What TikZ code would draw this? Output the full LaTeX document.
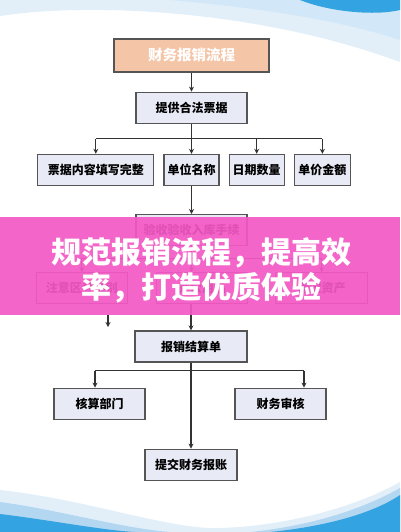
\documentclass[tikz,border=0pt]{standalone}
\usepackage{fontspec}
\newfontfamily\cjk{Noto Sans CJK SC}
\usetikzlibrary{arrows.meta,positioning,calc}
\definecolor{boxfill}{RGB}{232,234,246}
\definecolor{boxline}{RGB}{85,85,85}
\definecolor{peach}{RGB}{244,197,167}
\definecolor{wire}{RGB}{51,51,51}
\definecolor{bandpink}{RGB}{244,88,197}
\definecolor{skyA}{RGB}{226,239,249}
\definecolor{skyB}{RGB}{180,215,241}
\definecolor{skyC}{RGB}{52,163,225}

\begin{document}
\begin{tikzpicture}[x=1pt, y=-1pt,
box/.style={draw=boxline, line width=1.2pt, fill=boxfill, align=center, minimum height=31pt, inner sep=2pt, font=\cjk\bfseries\fontsize{12}{14}\selectfont},
head/.style={box, fill=peach, text=white, minimum width=155pt, minimum height=33pt, font=\cjk\bfseries\fontsize{14.5}{16}\selectfont},
arrow/.style={-{Stealth[length=5pt,width=5pt]}, wire, line width=1.2pt},
wireline/.style={wire, line width=1.2pt},
banner/.style={text=white, align=center, font=\cjk\bfseries\fontsize{30}{35}\selectfont}
]
\useasboundingbox (0,0) rectangle (400,532);
\fill[white] (0,0) rectangle (400,532);

% top swoosh
\fill[skyA] (0,0) -- (0,16) .. controls (90,2) and (260,10) .. (400,62) -- (400,0) -- cycle;
\fill[skyB!60] (170,0) .. controls (260,8) and (340,20) .. (400,40) -- (400,0) -- cycle;
\fill[skyC] (300,0) .. controls (330,12) and (375,16) .. (400,10) -- (400,0) -- cycle;

% bottom swoosh
\fill[skyA] (0,490) .. controls (90,500) and (170,530) .. (220,528) .. controls (290,526) and (360,505) .. (400,482) -- (400,532) -- (0,532) -- cycle;
\fill[skyB] (0,502) .. controls (60,510) and (120,528) .. (170,532) -- (0,532) -- cycle;
\fill[skyB] (250,532) .. controls (320,525) and (370,505) .. (400,488) -- (400,532) -- cycle;
\fill[skyC] (0,514) .. controls (50,520) and (100,530) .. (135,532) -- (0,532) -- cycle;
\fill[skyC] (270,532) .. controls (330,526) and (375,512) .. (400,495) -- (400,532) -- cycle;

% flow chart
\node[head] (title) at (191.5,55.5) {财务报销流程};
\node[box, minimum width=111pt, below=19pt of title] (legal) {提供合法票据};
\node[box, minimum width=55pt, below=30pt of legal] (unit) {单位名称};
\node[box, minimum width=116pt, left=9pt of unit] (fill) {票据内容填写完整};
\node[box, minimum width=55pt, right=9pt of unit] (date) {日期数量};
\node[box, minimum width=56pt, right=9pt of date] (price) {单价金额};
\node[box, minimum width=111pt, below=28pt of unit] (accept) {验收验收入库手续};
\node[box, minimum width=91pt, below=26pt of accept, xshift=10.5pt] (office) {办公用品};
\node[box, minimum width=91pt, left=28pt of office] (sort) {注意区分类别};
\node[box, minimum width=92pt, right=27pt of office] (asset) {固定资产};
\node[box, minimum width=112pt, below=26pt of office, xshift=-11pt] (settle) {报销结算单};
\node[box, minimum width=91pt, below=25pt of settle, xshift=-91.5pt] (dept) {核算部门};
\node[box, minimum width=91pt, below=25pt of settle, xshift=89.5pt] (review) {财务审核};
\node[box, minimum width=92pt, below=86pt of settle] (submit) {提交财务报账};

\draw[arrow] (title) -- (legal);
\coordinate[below=15pt of legal] (fork1);
\draw[wireline] (legal) -- (fork1);
\draw[wireline] (fork1 -| fill) -- (fork1 -| price);
\foreach \n in {fill,unit,date,price}
  \draw[arrow] (fork1 -| \n) -- (\n.north);

\draw[arrow] (unit) -- (accept);
\coordinate[below=12pt of accept] (fork2);
\draw[wireline] (accept) -- (fork2);
\draw[wireline] (fork2 -| sort) -- (fork2 -| asset);
\draw[arrow] (fork2 -| sort) -- (sort.north);
\draw[arrow] (fork2) -- (fork2 |- office.north);
\draw[arrow] (fork2 -| asset) -- (asset.north);

\draw[arrow] (office.south -| settle) -- (settle);
\coordinate (stubtop) at (108,315);
\coordinate (stubend) at (108,327);
\draw[arrow] (stubtop) -- (stubend);

\draw[arrow] (settle) -- (submit);
\coordinate[below=8pt of settle] (fork3);
\coordinate (forkL) at ($(fork3)+(-96,0)$);
\coordinate (forkR) at ($(fork3)+(113,0)$);
\draw[wireline] (forkL) -- (forkR);
\draw[arrow] (forkL) -- (forkL |- dept.north);
\draw[arrow] (forkR) -- (forkR |- review.north);

% banner
\fill[bandpink, opacity=0.92] (0,217) rectangle (400,315);
\node[banner] (slogan) at (201,270.5) {规范报销流程，提高效\\率，打造优质体验};
\end{tikzpicture}
\end{document}
